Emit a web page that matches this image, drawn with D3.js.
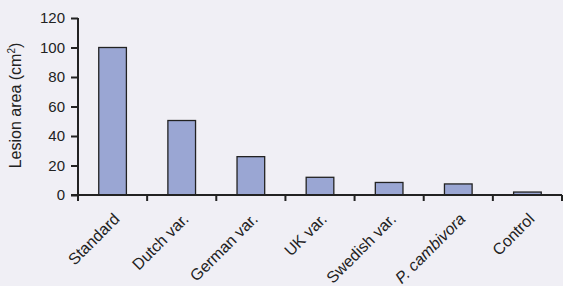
<!DOCTYPE html>
<html>
<head>
<meta charset="utf-8">
<script src="https://cdn.jsdelivr.net/npm/d3@7/dist/d3.min.js"></script>
<style>
  body { margin: 0; background: #f0eff5; }
  svg { display: block; font-family: "Liberation Sans", Arial, sans-serif; }
</style>
</head>
<body>
<svg width="563" height="286"></svg>
<script>
var categories = ['Standard', 'Dutch var.', 'German var.', 'UK var.', 'Swedish var.', 'P. cambivora', 'Control'];
var lesionArea = [100, 50.5, 26, 12, 8.5, 7.5, 2];
var yTicks = [0, 20, 40, 60, 80, 100, 120];

var margin = {top: 18, right: 1, bottom: 91, left: 78},
    width = 563 - margin.left - margin.right,
    height = 286 - margin.top - margin.bottom;

var svg = d3.select('svg')
    .append('g')
    .attr('transform', 'translate(' + margin.left + ',' + margin.top + ')');

var x = d3.scaleBand()
    .domain(categories)
    .range([0, width])
    .paddingInner(0.6)
    .paddingOuter(0.3);

var y = d3.scaleLinear()
    .domain([0, 120])
    .range([height, 0]);

// bars
svg.selectAll('rect.bar')
    .data(categories)
    .enter().append('rect')
    .attr('class', 'bar')
    .attr('x', function(d) { return x(d); })
    .attr('y', function(d, i) { return y(lesionArea[i]); })
    .attr('width', x.bandwidth())
    .attr('height', function(d, i) { return height - y(lesionArea[i]); })
    .attr('fill', '#9aa6d3')
    .attr('stroke', '#222')
    .attr('stroke-width', 1.3);

// y axis
var yAxis = svg.append('g')
    .call(d3.axisLeft(y).tickValues(yTicks).tickSize(7).tickPadding(6));
yAxis.select('.domain').attr('stroke', '#222').attr('stroke-width', 2).attr('d', 'M0,' + (height + 5) + 'V0');
yAxis.selectAll('.tick line').attr('stroke', '#222').attr('stroke-width', 2);
yAxis.selectAll('.tick text').attr('font-size', 15).attr('fill', '#222');

// x axis: ticks at band boundaries
var boundaries = d3.range(categories.length + 1).map(function(i) { return i * width / categories.length; });

svg.append('line')
    .attr('x1', -7).attr('x2', width)
    .attr('y1', height).attr('y2', height)
    .attr('stroke', '#222').attr('stroke-width', 2);

svg.selectAll('line.xtick')
    .data(boundaries)
    .enter().append('line')
    .attr('class', 'xtick')
    .attr('x1', function(d) { return d; }).attr('x2', function(d) { return d; })
    .attr('y1', height).attr('y2', height + 6)
    .attr('stroke', '#222').attr('stroke-width', 2);

svg.selectAll('text.xlabel')
    .data(categories)
    .enter().append('text')
    .attr('class', 'xlabel')
    .attr('transform', function(d) {
        return 'translate(' + (x(d) + x.bandwidth() / 2 + 8) + ',' + (height + 25) + ') rotate(-45)';
    })
    .attr('text-anchor', 'end')
    .attr('font-size', 16)
    .attr('fill', '#222')
    .attr('font-style', function(d) { return d === 'P. cambivora' ? 'italic' : null; })
    .text(function(d) { return d; });

// y label
svg.append('text')
    .attr('transform', 'translate(-57,' + (height / 2 - 1) + ') rotate(-90)')
    .attr('text-anchor', 'middle')
    .attr('font-size', 16)
    .attr('fill', '#222')
    .html('Lesion area (cm<tspan dy="-6" font-size="10">2</tspan><tspan dy="6">)</tspan>');
</script>
</body>
</html>
